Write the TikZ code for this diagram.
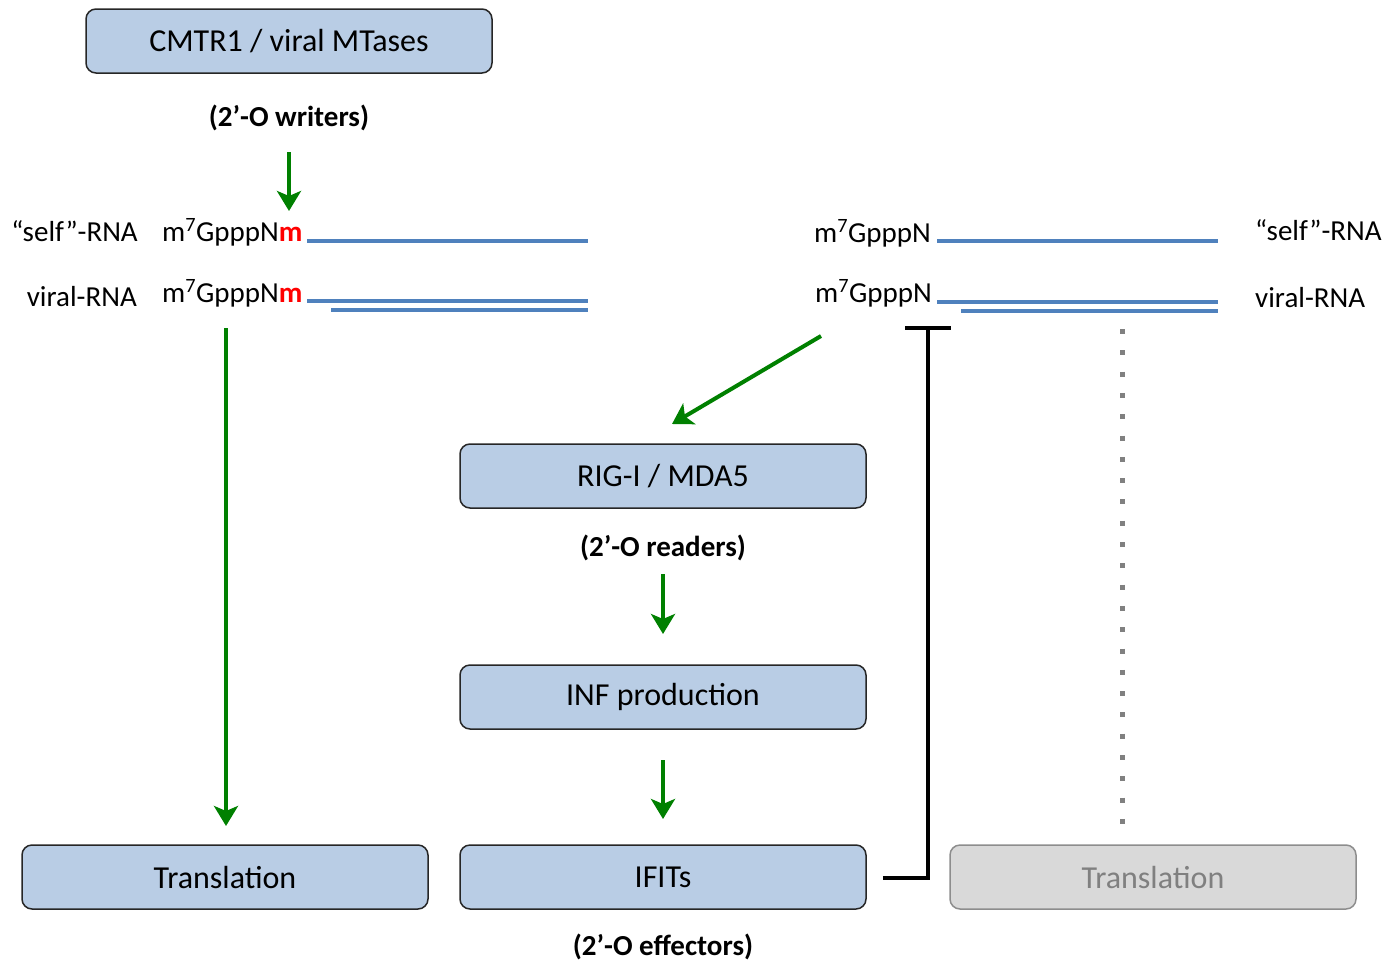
\documentclass[tikz,border=0pt]{standalone}
\usepackage{fontspec}
\setmainfont{Carlito}
\usetikzlibrary{arrows.meta,calc}
\definecolor{boxblue}{RGB}{185,205,229}
\definecolor{boxgrey}{RGB}{217,217,217}
\definecolor{rnablue}{RGB}{79,129,189}
\definecolor{arrgreen}{RGB}{0,128,0}
\definecolor{greytext}{RGB}{128,128,128}
\tikzset{
  bluebox/.style={draw=black!85, line width=1.5pt, fill=boxblue, rounded corners=10pt,
    minimum width=406pt, minimum height=64pt, font=\fontsize{32}{38}\selectfont},
  greybox/.style={bluebox, draw=greytext!90, fill=boxgrey, text=greytext},
  lbl/.style={inner sep=0pt, font=\fontsize{29}{34}\selectfont},
  blbl/.style={inner sep=0pt, font=\fontsize{29}{34}\selectfont\bfseries},
  garrow/.style={draw=arrgreen, line width=4pt, -{Stealth[length=20pt,width=24pt,inset=5pt]}},
  rna/.style={draw=rnablue, line width=4pt},
  inhib/.style={draw=black, line width=4pt, -{Bar[width=46pt]}},
  dotline/.style={draw=greytext, line width=5pt, dash pattern=on 5pt off 16.3pt}
}
\begin{document}
\begin{tikzpicture}[x=1pt,y=-1pt]
\useasboundingbox (0,0) rectangle (1386,961);
% boxes
\node[bluebox] (cmtr) at (289,41) {CMTR1 / viral MTases};
\node[bluebox] (rig) at (663,476) {RIG-I / MDA5};
\node[bluebox] (inf) at (663,697) {INF production};
\node[bluebox] (ifits) at (663,877) {IFITs};
\node[bluebox] (transL) at (225,877) {Translation};
\node[greybox] (transR) at (1153,877) {Translation};
% bold labels
\node[blbl] (writers) at (289,118) {(2’-O writers)};
\node[blbl] (readers) at (663,548) {(2’-O readers)};
\node[blbl] (effectors) at (663,947) {(2’-O effectors)};
% left RNA labels
\node[lbl, anchor=base east] (selfL) at (138,241) {“self”-RNA};
\node[lbl, anchor=base east] (viralL) at (137,306) {viral-RNA};
\node[lbl, anchor=base west] (capS) at (162,241) {m\textsuperscript{7}GpppN\textcolor{red}{\textbf{m}}};
\node[lbl, anchor=base west] (capV) at (162,302) {m\textsuperscript{7}GpppN\textcolor{red}{\textbf{m}}};
% right RNA labels
\node[lbl, anchor=base east] (capS2) at (931,242) {m\textsuperscript{7}GpppN};
\node[lbl, anchor=base east] (capV2) at (932,302) {m\textsuperscript{7}GpppN};
\node[lbl, anchor=base west] (selfR) at (1255,240) {“self”-RNA};
\node[lbl, anchor=base west] (viralR) at (1255,307) {viral-RNA};
% RNA strands
\coordinate (s1a) at (307,241); \coordinate (s1b) at (588,241);
\coordinate (v1a) at (307,301); \coordinate (v1b) at (588,301);
\coordinate (v2a) at (331,310); \coordinate (v2b) at (588,310);
\coordinate (s2a) at (937,241); \coordinate (s2b) at (1218,241);
\coordinate (w1a) at (937,302); \coordinate (w1b) at (1218,302);
\coordinate (w2a) at (961,311); \coordinate (w2b) at (1218,311);
\draw[rna] (s1a) -- (s1b);
\draw[rna] (v1a) -- (v1b);
\draw[rna] (v2a) -- (v2b);
\draw[rna] (s2a) -- (s2b);
\draw[rna] (w1a) -- (w1b);
\draw[rna] (w2a) -- (w2b);
% green arrows
\coordinate (g1a) at (289,152); \coordinate (g1b) at (289,211);
\draw[garrow] (g1a) -- (g1b);
\coordinate (g2a) at (226,328); \coordinate (g2b) at (226,826);
\draw[garrow] (g2a) -- (g2b);
\coordinate (g3a) at (821,336); \coordinate (g3b) at (672,424);
\draw[garrow] (g3a) -- (g3b);
\coordinate (g4a) at (663,574); \coordinate (g4b) at (663,634);
\draw[garrow] (g4a) -- (g4b);
\coordinate (g5a) at (663,760); \coordinate (g5b) at (663,819);
\draw[garrow] (g5a) -- (g5b);
% inhibition
\coordinate (inhStart) at ($(ifits.east)+(16,1)$);
\coordinate (inhEnd) at (928,326);
\draw[inhib] (inhStart) -| (inhEnd);
% dotted
\coordinate (d1) at (1122,329); \coordinate (d2) at (1122,824);
\draw[dotline] (d1) -- (d2);
\end{tikzpicture}
\end{document}
